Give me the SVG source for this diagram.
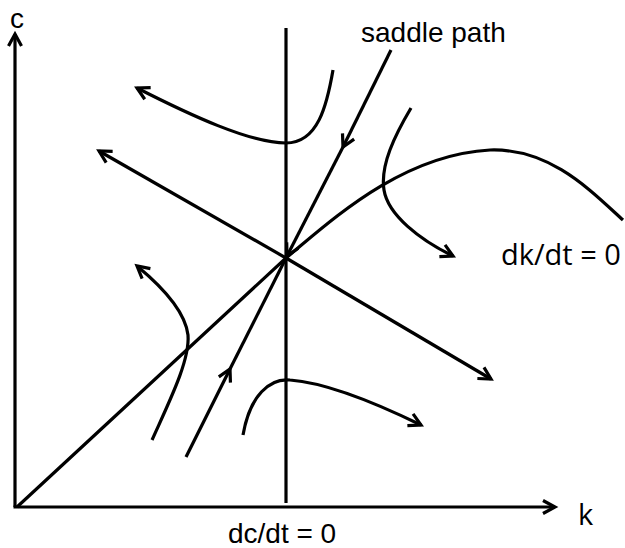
<svg xmlns="http://www.w3.org/2000/svg" width="625" height="548" viewBox="0 0 625 548">
<defs>
<marker id="arr" markerUnits="userSpaceOnUse" markerWidth="20" markerHeight="20" refX="0" refY="0" viewBox="-16 -10 20 20" orient="auto">
<path d="M-12,-6.5 L0,0 L-12,6.5" fill="none" stroke="#000" stroke-width="3.2"/>
</marker>
</defs>
<style>
.ln{fill:none;stroke:#000;stroke-width:3.2}
.a{marker-end:url(#arr)}
.t1{font-family:"Liberation Sans",Arial,sans-serif;font-size:28px;fill:#000}
.t2{font-family:"Open Sans","Liberation Sans",sans-serif;font-size:29px;fill:#000}
</style>
<rect width="625" height="548" fill="#fff"/>
<g id="connectors">
<path class="ln a" d="M15,507 L15,34"/>
<path class="ln a" d="M13.5,507 L555,507"/>
<path class="ln" d="M286,28 L286,503"/>
<path class="ln" d="M17,507 L286,258 C330,222 400,155 490,150 C550,148 590,190 623,220"/>
<path class="ln a" d="M391,50 L343,147"/>
<path class="ln a" d="M343,147 L287,256"/>
<path class="ln a" d="M186,457 L230,369"/>
<path class="ln" d="M230,369 L286,258"/>
<path class="ln a" d="M286,258 L99,151"/>
<path class="ln a" d="M286,258 L491,379"/>
<path class="ln a" d="M333,70 C327,105 318,143 286,143 C250,143 190,115 137,88"/>
<path class="ln a" d="M411,108 C395,135 380,165 384,190 C388,215 420,240 453,256"/>
<path class="ln a" d="M152,440 C170,400 190,360 188,335 C185,310 160,285 137,266"/>
<path class="ln a" d="M243,435 C250,395 270,378 290,380 C330,383 380,405 421,425"/>
</g>
<g id="label-c"><text class="t1" x="10" y="28">c</text></g>
<g id="label-k"><text class="t2" x="578" y="525">k</text></g>
<g id="label-saddle"><text class="t1" x="361" y="42">saddle path</text></g>
<g id="label-dkdt"><text class="t2" x="501" y="265">dk/dt = 0</text></g>
<g id="label-dcdt"><text class="t1" x="228" y="543">dc/dt = 0</text></g>
</svg>
